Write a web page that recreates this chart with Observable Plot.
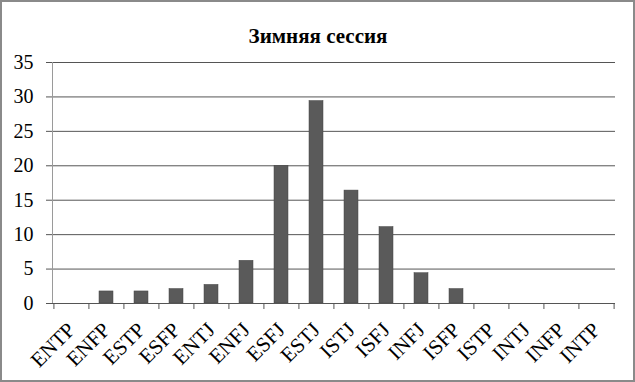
<!DOCTYPE html>
<html>
<head>
<meta charset="utf-8">
<script src="https://cdn.jsdelivr.net/npm/d3@7"></script>
<script src="https://cdn.jsdelivr.net/npm/@observablehq/plot@0.6"></script>
<style>
  body { margin: 0; background: #fff; }
  #wrap { position: relative; width: 635px; height: 382px; overflow: hidden; }
  #border { position: absolute; left: 0; top: 0; width: 635px; height: 382px; box-sizing: border-box; border: 2px solid #8a8a8a; pointer-events: none; }
</style>
</head>
<body>
<div id="wrap"><div id="border"></div></div>
<script>
const title = "Зимняя сессия";
const categories = ["ENTP","ENFP","ESTP","ESFP","ENTJ","ENFJ","ESFJ","ESTJ","ISTJ","ISFJ","INFJ","ISFP","ISTP","INTJ","INFP","INTP"];
const values = [0, 1.75, 1.75, 2.1, 2.7, 6.2, 20.0, 29.4, 16.4, 11.1, 4.4, 2.1, 0, 0, 0, 0];
const yTicks = [0, 5, 10, 15, 20, 25, 30, 35];

const data = categories.map((c, i) => ({type: c, value: values[i]}));

const W = 635, H = 382, ML = 52, MR = 20, MT = 62, MB = 79;
const half = (W - ML - MR) / categories.length / 2;
const font = "Liberation Serif";

const chart = Plot.plot({
  width: W, height: H,
  marginLeft: ML, marginRight: MR, marginTop: MT, marginBottom: MB,
  style: {background: "transparent", color: "#000", fontFamily: font},
  x: {domain: categories, paddingInner: 0.6, paddingOuter: 0.3, label: null},
  y: {domain: [0, 35], label: null},
  marks: [
    Plot.ruleY(yTicks.filter(d => d > 0), {stroke: "#555", strokeWidth: 1}),
    Plot.frame({anchor: "left", stroke: "#9a9a9a"}),
    Plot.axisY({ticks: yTicks, tickSize: 6, tickPadding: 13, fontSize: 20, stroke: "#555", label: null}),
    Plot.barY(data, {x: "type", y: "value", fill: "#5a5a5a", stroke: "#444", strokeWidth: 0.5}),
    Plot.ruleY([0], {stroke: "#555", strokeWidth: 1}),
    Plot.ruleX(categories, {x: d => d, dx: -half, y1: 0, y2: 0, insetBottom: -6, stroke: "#555"}),
    Plot.ruleX([categories[categories.length - 1]], {x: d => d, dx: half, y1: 0, y2: 0, insetBottom: -6, stroke: "#555"}),
    Plot.axisX({tickSize: 0, tickRotate: -45, tickPadding: 23, fontSize: 21, label: null}),
    Plot.text([title], {text: d => d, frameAnchor: "top", dx: -16, dy: -34, fontSize: 21, fontWeight: "bold", fill: "#000"})
  ]
});
document.getElementById("wrap").prepend(chart);
chart.style.position = "absolute";
chart.style.left = "0";
chart.style.top = "0";
</script>
</body>
</html>
